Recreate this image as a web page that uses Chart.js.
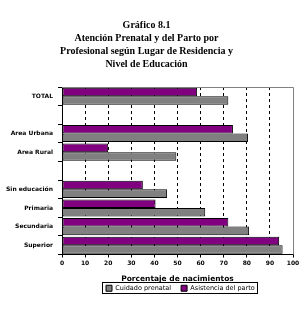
<!DOCTYPE html>
<html>
<head>
<meta charset="utf-8">
<script src="https://cdn.jsdelivr.net/npm/chart.js@4.4.0/dist/chart.umd.min.js"></script>
<style>
  html, body { margin: 0; padding: 0; background: #fff; }
  #wrap { width: 307px; height: 322px; }
</style>
</head>
<body>
<div id="wrap"><canvas id="mycanvas"></canvas></div>
<script>
var categorias = ['TOTAL', '', 'Area Urbana', 'Area Rural', '', 'Sin educación', 'Primaria', 'Secundaria', 'Superior'];
var asistencia = [58.5, null, 74, 20, null, 35, 40.5, 72, 94];
var cuidado = [72, null, 80.5, 49.5, null, 45.5, 62, 81, 95.5];
var ticksX = [0, 10, 20, 30, 40, 50, 60, 70, 80, 90, 100];

var titulo = ['Gráfico 8.1', 'Atención Prenatal y del Parto por', 'Profesional según Lugar de Residencia y', 'Nivel de Educación'];

// borde gris del area de trazado y marco de la leyenda
var marco = {
	id: 'marco',
	afterLayout: function(chart) {
		var lg = chart.legend;
		var w = lg.width;
		lg.left = 106 - lg.options.labels.padding;
		lg.right = lg.left + w;
		lg.top = 275;
		lg.bottom = lg.top + lg.height;
	},
	afterDraw: function(chart) {
		var ctx = chart.ctx;
		var a = chart.chartArea;
		ctx.save();
		ctx.strokeStyle = '#808080';
		ctx.lineWidth = 1;
		ctx.beginPath();
		ctx.moveTo(a.left, a.top + 0.5);
		ctx.lineTo(a.right + 0.5, a.top + 0.5);
		ctx.lineTo(a.right + 0.5, a.bottom);
		ctx.stroke();

		var lg = chart.legend;
		var pad = lg.options.labels.padding;
		var x0 = lg.left + pad;
		var x1 = x0 + lg.lineWidths[0] - pad;
		var y0 = lg.top + pad;
		ctx.strokeStyle = '#000';
		ctx.strokeRect(Math.round(x0) - 3.5, Math.round(y0) - 2.5, Math.round(x1 - x0) + 6, 11);
		ctx.restore();
	}
};

var chartdata = {
	labels: categorias,
	datasets: [
		{
			label: 'Asistencia del parto',
			backgroundColor: '#800080',
			borderColor: '#000',
			borderWidth: 1,
			borderSkipped: false,
			data: asistencia
		},
		{
			label: 'Cuidado prenatal',
			backgroundColor: '#808080',
			borderColor: '#000',
			borderWidth: 1,
			borderSkipped: false,
			data: cuidado
		}
	]
};

var ctx = document.getElementById('mycanvas');

var barGraph = new Chart(ctx, {
	type: 'bar',
	data: chartdata,
	plugins: [marco],
	options: {
		indexAxis: 'y',
		responsive: true,
		maintainAspectRatio: false,
		animation: false,
		layout: { padding: { left: 0, right: 14, top: 0, bottom: 12 } },
		datasets: { bar: { categoryPercentage: 0.92, barPercentage: 1 } },
		scales: {
			x: {
				min: 0,
				max: 100,
				afterBuildTicks: function(scale) {
					scale.ticks = ticksX.map(function(v) { return { value: v }; });
				},
				afterFit: function(scale) { scale.height = 29; },
				grid: {
					color: function(c) { return c.tick && (c.tick.value === 0 || c.tick.value === 100) ? 'rgba(0,0,0,0)' : '#000'; },
					tickColor: '#000',
					tickLength: 3,
					tickBorderDash: []
				},
				border: { color: '#000', width: 1, dash: [3, 3] },
				ticks: {
					color: '#000',
					padding: 2,
					maxRotation: 0,
					font: { family: 'DejaVu Sans', size: 6, weight: 'bold' }
				},
				title: {
					display: true,
					text: 'Porcentaje de nacimientos',
					color: '#000',
					padding: { top: 0, bottom: 0 },
					font: { family: 'DejaVu Sans', size: 7.5, weight: 'bold' }
				}
			},
			y: {
				afterFit: function(scale) { scale.width = 62; },
				grid: {
					drawOnChartArea: false,
					color: '#000',
					tickLength: 4
				},
				border: { color: '#000', width: 1 },
				ticks: {
					color: '#000',
					padding: 5,
					autoSkip: false,
					font: { family: 'DejaVu Sans', size: 6, weight: 'bold' }
				}
			}
		},
		plugins: {
			title: {
				display: true,
				text: titulo,
				color: '#000',
				padding: { top: 19, bottom: 16 },
				font: { family: 'Liberation Serif', size: 10, weight: 'bold', lineHeight: 1.3 }
			},
			legend: {
				position: 'bottom',
				align: 'start',
				reverse: true,
				labels: {
					color: '#000',
					boxWidth: 6,
					boxHeight: 6,
					padding: 10,
					font: { family: 'DejaVu Sans', size: 6.5 }
				}
			},
			tooltip: { enabled: false }
		}
	}
});
</script>
</body>
</html>
